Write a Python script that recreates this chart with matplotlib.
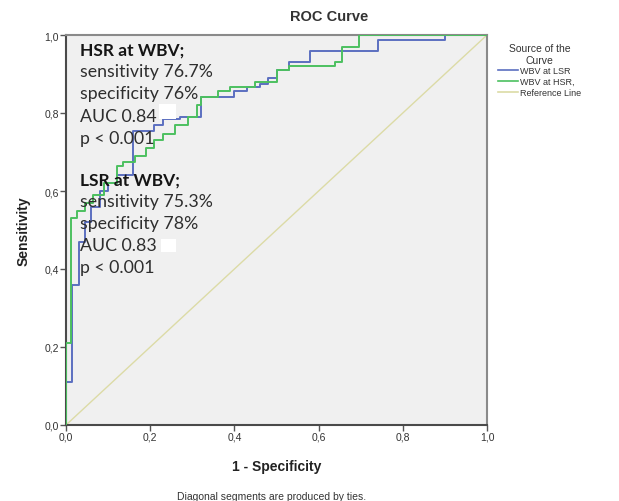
import matplotlib
matplotlib.use("Agg")
import matplotlib.pyplot as plt
from matplotlib.lines import Line2D
from matplotlib.patches import Rectangle

# ---- data (step corners: x of each vertical step, y at its top) ----
lsr_fpr = [0, 0, 0.014, 0.03, 0.045, 0.06, 0.08, 0.10, 0.12, 0.16, 0.21, 0.23, 0.27,
           0.32, 0.40, 0.43, 0.46, 0.48, 0.50, 0.53, 0.58, 0.74, 0.90, 1.0]
lsr_tpr = [0, 0.11, 0.36, 0.47, 0.52, 0.56, 0.60, 0.62, 0.64, 0.754, 0.77, 0.785, 0.79,
           0.84, 0.856, 0.866, 0.875, 0.89, 0.91, 0.93, 0.96, 0.987, 1.0, 1.0]

hsr_fpr = [0, 0, 0.012, 0.026, 0.045, 0.064, 0.09, 0.12, 0.135, 0.164, 0.19, 0.21, 0.23,
           0.26, 0.29, 0.31, 0.32, 0.36, 0.39, 0.45, 0.50, 0.53, 0.64, 0.655, 0.695, 1.0]
hsr_tpr = [0, 0.21, 0.53, 0.55, 0.57, 0.59, 0.62, 0.665, 0.674, 0.69, 0.71, 0.73, 0.746,
           0.77, 0.79, 0.82, 0.84, 0.856, 0.867, 0.88, 0.91, 0.92, 0.93, 0.97, 1.0, 1.0]

ref_x = [0, 1]
ref_y = [0, 1]

series_labels = ["WBV at LSR", "WBV at HSR,", "Reference Line"]
ticks = [0.0, 0.2, 0.4, 0.6, 0.8, 1.0]
tick_labels = ["0,0", "0,2", "0,4", "0,6", "0,8", "1,0"]

hsr_text = ["sensitivity 76.7%", "specificity 76%", "AUC 0.84", "p < 0.001"]
lsr_text = ["sensitivity 75.3%", "specificity 78%", "AUC 0.83", "p < 0.001"]

# ---- figure ----
blue = "#5b6fc0"
green = "#4cc060"
refc = "#dcdba6"
sans = "Liberation Sans"

fig = plt.figure(figsize=(6.19, 5.02), dpi=100)
ax = fig.add_axes([66/619, 76/502, 421/619, 390/502])
ax.set_facecolor("#f0f0f0")

ax.plot(ref_x, ref_y, color=refc, lw=1.0, zorder=1)
ax.plot(lsr_fpr, lsr_tpr, drawstyle="steps-post", color=blue, lw=1.4, zorder=2)
ax.plot(hsr_fpr, hsr_tpr, drawstyle="steps-post", color=green, lw=1.4, zorder=3)

ax.set_xlim(0, 1)
ax.set_ylim(0, 1)
ax.set_xticks(ticks)
ax.set_yticks(ticks)
ax.set_xticklabels(tick_labels, fontsize=7.5, color="#333333", family=sans)
ax.set_yticklabels(tick_labels, fontsize=7.5, color="#333333", family=sans)
ax.tick_params(direction="out", length=4, width=1, color="#555555", pad=1)

for s in ["top", "right"]:
    ax.spines[s].set_color("#8a8a8a")
    ax.spines[s].set_linewidth(1.5)
for s in ["left", "bottom"]:
    ax.spines[s].set_color("#4a4a4a")
    ax.spines[s].set_linewidth(1.5)

fig.text(329/619, 1 - 17/502, "ROC Curve", fontsize=10.5, fontweight="bold",
         color="#333333", ha="center", va="center", family=sans)
ax.set_xlabel("1 - Specificity", fontsize=10, fontweight="bold", color="#222222",
              labelpad=12, family=sans)
ax.set_ylabel("Sensitivity", fontsize=10, fontweight="bold", color="#222222",
              labelpad=10, family=sans)

fig.text(0.438, 1 - 497/502, "Diagonal segments are produced by ties.", fontsize=7.5,
         color="#333333", ha="center", va="center", family=sans)

# annotations
fam = "Lato"
tc = "#2e2e2e"
def block(y0, head, lines):
    ax.text(0.033, y0, head, transform=ax.transAxes, fontsize=12.5, fontweight="bold",
            family=fam, color="#151515", va="center", zorder=5)
    for i, t in enumerate(lines):
        ax.text(0.033, y0 - (i + 1) * 0.0565, t, transform=ax.transAxes, fontsize=12.8,
                family=fam, color=tc, va="center", zorder=5)

block(0.963, "HSR at WBV;", hsr_text)
block(0.630, "LSR at WBV;", lsr_text)
ax.add_patch(Rectangle((0.222, 0.785), 0.04, 0.038, transform=ax.transAxes,
                       facecolor="white", edgecolor="none", zorder=4))
ax.add_patch(Rectangle((0.226, 0.444), 0.036, 0.034, transform=ax.transAxes,
                       facecolor="white", edgecolor="none", zorder=4))

# legend
handles = [Line2D([], [], color=blue, lw=1.2),
           Line2D([], [], color=green, lw=1.2),
           Line2D([], [], color=refc, lw=1.2)]
leg = fig.legend(handles, series_labels, loc="upper left", bbox_to_anchor=(0.795, 0.925),
                 frameon=False, prop={"family": sans, "size": 6.5},
                 title="Source of the\nCurve", title_fontproperties={"family": sans, "size": 7.5},
                 handlelength=2.2, handletextpad=0.2, labelspacing=0.2, borderpad=0.2)
leg.get_title().set_multialignment("center")
leg.get_title().set_color("#333333")
for t in leg.get_texts():
    t.set_color("#333333")

fig.savefig("out.png", dpi=100, facecolor="white")
